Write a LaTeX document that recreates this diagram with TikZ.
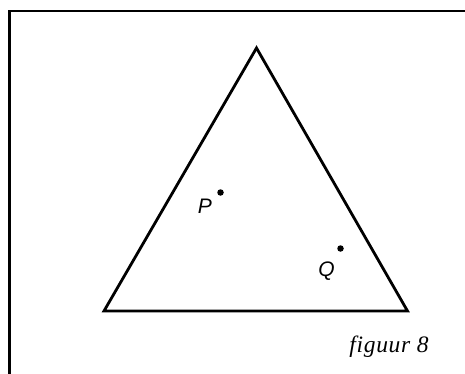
\documentclass[tikz,border=0pt]{standalone}
\usepackage{fontspec}
\setmainfont{Liberation Serif}
\setsansfont{Liberation Sans}
\begin{document}
\begin{tikzpicture}[x=1pt,y=-1pt,
  frameline/.style={line width=2.2pt,black},
  triline/.style={line width=2.8pt,black,line join=miter},
  ptdot/.style={circle,fill=black,inner sep=0pt,minimum size=6.5pt},
  ptlabel/.style={font=\fontsize{21}{21}\sffamily\itshape,inner sep=0pt,anchor=base},
  caption/.style={font=\fontsize{23.5}{23.5}\selectfont\itshape\addfontfeatures{LetterSpace=3},inner sep=0pt,anchor=base}]
\useasboundingbox (0,0) rectangle (465,374);
\draw[frameline] (9.5,374) -- (9.5,11) -- (465,11);
\coordinate (A) at (104,311);
\coordinate (B) at (407.5,311);
\coordinate (C) at (256.5,48);
\draw[triline] (A) -- (B) -- (C) -- cycle;
\node[ptdot] (P) at (220.5,192.5) {};
\node[ptdot] (Q) at (340.5,248.5) {};
\node[ptlabel] (Plab) at (205,213) {P};
\node[ptlabel] (Qlab) at (326.5,276) {Q};
\node[caption] (cap) at (389,352) {figuur 8};
\end{tikzpicture}
\end{document}
